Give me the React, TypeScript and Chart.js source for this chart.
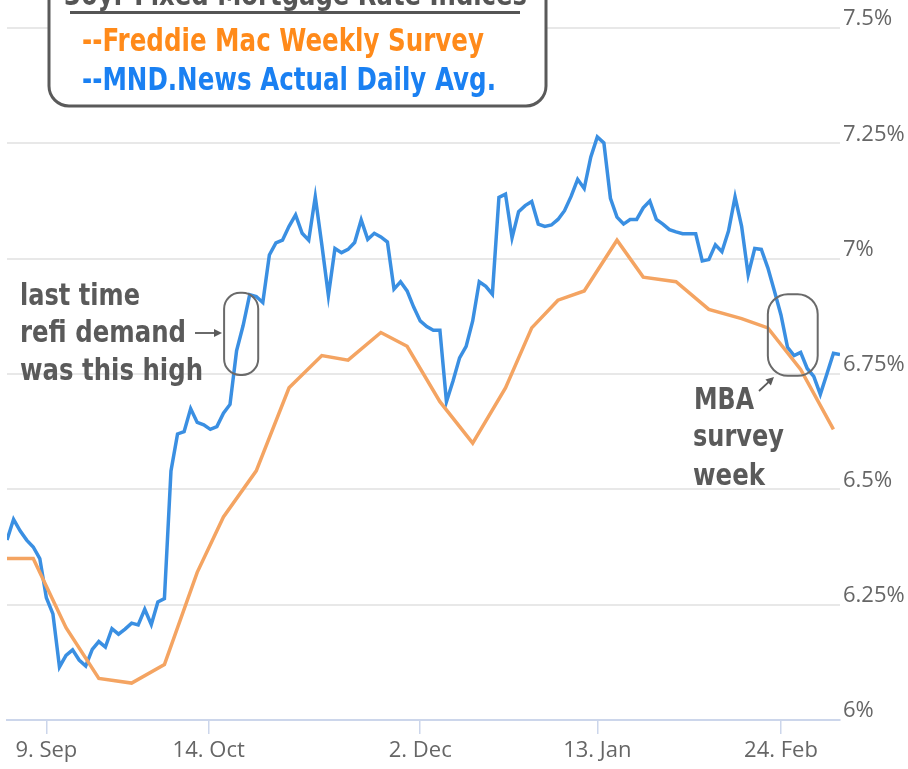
import React, { useEffect, useRef } from 'react';
import { Chart, registerables } from 'chart.js';

Chart.register(...registerables);

// MND daily 30yr fixed average, one value per trading day (index 0 = 29 Aug 2024)
const mndDaily = [
  6.39, 6.435, 6.41, 6.39, 6.375, 6.35, 6.265, 6.23, 6.115, 6.14,
  6.152, 6.13, 6.117, 6.153, 6.17, 6.158, 6.198, 6.186, 6.197, 6.21,
  6.206, 6.24, 6.207, 6.256, 6.263, 6.54, 6.62, 6.625, 6.675, 6.645,
  6.64, 6.63, 6.636, 6.665, 6.684, 6.8, 6.855, 6.922, 6.918, 6.905,
  7.008, 7.034, 7.04, 7.07, 7.095, 7.055, 7.04, 7.134, 7.03, 6.92,
  7.022, 7.013, 7.02, 7.035, 7.084, 7.042, 7.055, 7.047, 7.036, 6.934,
  6.95, 6.93, 6.895, 6.865, 6.853, 6.845, 6.845, 6.69, 6.735, 6.785,
  6.81, 6.865, 6.95, 6.94, 6.923, 7.133, 7.14, 7.045, 7.102, 7.115,
  7.124, 7.075, 7.07, 7.073, 7.085, 7.104, 7.135, 7.172, 7.152, 7.22,
  7.264, 7.251, 7.131, 7.09, 7.075, 7.085, 7.085, 7.11, 7.125, 7.085,
  7.075, 7.063, 7.058, 7.054, 7.054, 7.054, 6.995, 6.998, 7.03, 7.015,
  7.06, 7.134, 7.07, 6.965, 7.022, 7.02, 6.98, 6.93, 6.878, 6.808,
  6.79, 6.797, 6.762, 6.745, 6.706, 6.75, 6.795, 6.792,
];

// Freddie Mac weekly survey: trading-day index of each release and its rate
const freddieIdx = [0, 4, 9, 14, 19, 24, 29, 33, 38, 43, 48, 52, 57, 61, 66, 71, 76, 80, 84, 88, 93, 97, 102, 107, 112, 116, 121, 126];
const freddieRates = [6.35, 6.35, 6.2, 6.09, 6.08, 6.12, 6.32, 6.44, 6.54, 6.72, 6.79, 6.78, 6.84, 6.81, 6.69, 6.6, 6.72, 6.85, 6.91, 6.93, 7.04, 6.96, 6.95, 6.89, 6.87, 6.85, 6.76, 6.63];

// x-axis ticks (trading-day index) and their labels
const tickIdx = [6, 30.75, 63, 90, 118];
const tickLabels = ['9. Sep', '14. Oct', '2. Dec', '13. Jan', '24. Feb'];

const legendTitle = '30yr Fixed Mortgage Rate Indices';
const legendItems = ['--Freddie Mac Weekly Survey', '--MND.News Actual Daily Avg.'];
const noteLeft = ['last time', 'refi demand', 'was this high'];
const noteRight = ['MBA', 'survey', 'week'];

const ORANGE_LINE = '#f4a462';
const BLUE_LINE = '#3a8fe2';
const NOTE_GRAY = '#5a5a5a';

function fitText(ctx: CanvasRenderingContext2D, text: string, x: number, y: number, w: number, font: string, color: string) {
  ctx.save();
  ctx.font = font;
  ctx.textAlign = 'left';
  ctx.textBaseline = 'alphabetic';
  const m = ctx.measureText(text).width;
  ctx.translate(x, y);
  ctx.scale(w / m, 1);
  ctx.fillStyle = color;
  ctx.fillText(text, 0, 0);
  ctx.restore();
}

function arrow(ctx: CanvasRenderingContext2D, x0: number, y0: number, x1: number, y1: number) {
  const a = Math.atan2(y1 - y0, x1 - x0);
  const hl = 8;
  ctx.save();
  ctx.strokeStyle = NOTE_GRAY;
  ctx.fillStyle = NOTE_GRAY;
  ctx.lineWidth = 1.8;
  ctx.beginPath();
  ctx.moveTo(x0, y0);
  ctx.lineTo(x1 - Math.cos(a) * hl * 0.8, y1 - Math.sin(a) * hl * 0.8);
  ctx.stroke();
  ctx.beginPath();
  ctx.moveTo(x1, y1);
  ctx.lineTo(x1 - hl * Math.cos(a) + 4 * Math.sin(a), y1 - hl * Math.sin(a) - 4 * Math.cos(a));
  ctx.lineTo(x1 - hl * Math.cos(a) - 4 * Math.sin(a), y1 - hl * Math.sin(a) + 4 * Math.cos(a));
  ctx.closePath();
  ctx.fill();
  ctx.restore();
}

export default function App() {
  const ref = useRef<HTMLCanvasElement>(null);

  useEffect(() => {
    const canvas = ref.current;
    if (!canvas) return;

    const overlay = {
      id: 'overlay',
      afterDraw(chart: any) {
        const ctx: CanvasRenderingContext2D = chart.ctx;
        const xs = chart.scales.x;
        const ys = chart.scales.y;
        const bold = (s: number) => `bold ${s}px "DejaVu Sans"`;

        // highlight capsules
        const capsule = (i0: number, i1: number, v0: number, v1: number, r: number) => {
          const x0 = xs.getPixelForValue(i0);
          const x1 = xs.getPixelForValue(i1);
          const y0 = ys.getPixelForValue(v1);
          const y1 = ys.getPixelForValue(v0);
          ctx.save();
          ctx.beginPath();
          (ctx as any).roundRect(x0, y0, x1 - x0, y1 - y0, r);
          ctx.strokeStyle = '#6a6a6a';
          ctx.lineWidth = 2;
          ctx.stroke();
          ctx.restore();
        };
        capsule(33.1, 38.3, 6.748, 6.926, 16);
        capsule(116.0, 123.6, 6.746, 6.923, 20);

        // left note
        fitText(ctx, noteLeft[0], 20, 305, 120, bold(30), NOTE_GRAY);
        fitText(ctx, noteLeft[1], 20, 342, 166, bold(30), NOTE_GRAY);
        fitText(ctx, noteLeft[2], 20, 380, 183, bold(30), NOTE_GRAY);
        arrow(ctx, 195, 333, 222, 333);

        // right note
        fitText(ctx, noteRight[0], 694, 409, 60, bold(30), NOTE_GRAY);
        fitText(ctx, noteRight[1], 693, 446, 91, bold(30), NOTE_GRAY);
        fitText(ctx, noteRight[2], 693, 485, 72, bold(30), NOTE_GRAY);
        arrow(ctx, 759, 391, 774, 377);

        // legend box
        ctx.save();
        ctx.beginPath();
        (ctx as any).roundRect(49, -40, 497, 146, 20);
        ctx.fillStyle = '#ffffff';
        ctx.fill();
        ctx.strokeStyle = '#5a5a5a';
        ctx.lineWidth = 3;
        ctx.stroke();
        ctx.fillStyle = '#555555';
        ctx.fillRect(70, 11, 450, 3);
        ctx.restore();
        fitText(ctx, legendTitle, 64, 5, 463, bold(30), '#555555');
        fitText(ctx, legendItems[0], 82, 51, 402, bold(32), '#ff8a1a');
        fitText(ctx, legendItems[1], 82, 90, 414, bold(32), '#1a80f2');
      },
    };

    const chart = new Chart(canvas, {
      type: 'line',
      data: {
        datasets: [
          {
            label: 'Freddie Mac Weekly Survey',
            data: freddieIdx.map((x, i) => ({ x, y: freddieRates[i] })),
            borderColor: ORANGE_LINE,
            borderWidth: 3.5,
            pointRadius: 0,
            tension: 0,
            fill: false,
          },
          {
            label: 'MND.News Actual Daily Avg.',
            data: mndDaily.map((y, i) => ({ x: i, y })),
            borderColor: BLUE_LINE,
            borderWidth: 3.5,
            pointRadius: 0,
            tension: 0,
            fill: false,
          },
        ],
      },
      options: {
        animation: false,
        responsive: false,
        layout: { padding: { left: 7, top: 28, right: 0, bottom: 0 } },
        plugins: { legend: { display: false }, tooltip: { enabled: false } },
        scales: {
          x: {
            type: 'linear',
            min: 0,
            max: mndDaily.length - 1,
            afterBuildTicks: (s: any) => {
              s.ticks = tickIdx.map((v) => ({ value: v }));
            },
            afterFit: (s: any) => {
              s.height = 49;
            },
            grid: { display: true, drawOnChartArea: false, drawTicks: true, tickLength: 14, color: '#ccd6eb', lineWidth: 1.5 },
            border: { display: true, color: '#ccd6eb', width: 2 },
            ticks: {
              autoSkip: false,
              maxRotation: 0,
              minRotation: 0,
              padding: 4,
              color: '#666666',
              font: { family: '"Open Sans"', size: 22 },
              callback: (v: any) => {
                const k = tickIdx.indexOf(Number(v));
                return k >= 0 ? tickLabels[k] : '';
              },
            },
          },
          y: {
            position: 'right',
            min: 6,
            max: 7.5,
            afterFit: (s: any) => {
              s.width = 68;
            },
            grid: { color: '#e8e8e8', lineWidth: 2, drawTicks: false },
            border: { display: false },
            ticks: {
              stepSize: 0.25,
              padding: 3,
              labelOffset: -9,
              color: '#666666',
              font: { family: '"Open Sans"', size: 22 },
              callback: (v: any) => `${v}%`,
            },
          },
        },
      } as any,
      plugins: [overlay],
    });

    return () => chart.destroy();
  }, []);

  return (
    <canvas
      ref={ref}
      width={908}
      height={769}
      style={{ position: 'fixed', left: 0, top: 0, width: 908, height: 769 }}
    />
  );
}
